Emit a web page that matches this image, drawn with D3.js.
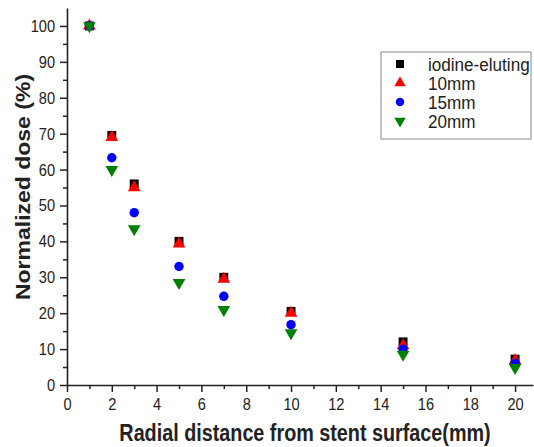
<!DOCTYPE html>
<html>
<head>
<meta charset="utf-8">
<script src="https://cdn.jsdelivr.net/npm/d3@7"></script>
<style>
  body { margin: 0; background: #fff; }
  svg text { font-family: "Liberation Sans", Arial, sans-serif; }
</style>
</head>
<body>
<svg id="chart" width="534" height="447"></svg>
<script>
// distances (mm)
const distances = [1, 2, 3, 5, 7, 10, 15, 20];
// normalized dose (%) per series
const iodineEluting = [100, 69.5, 56, 40, 30, 20.5, 12, 7.2];
const mm10 = [100, 69, 55, 39.3, 29.5, 20, 11, 6.8];
const mm15 = [100, 63.3, 48, 33, 24.7, 16.8, 10, 6];
const mm20 = [100, 60, 43.5, 28.5, 21, 14.5, 8.5, 4.8];
const seriesNames = ["iodine-eluting", "10mm", "15mm", "20mm"];
const xTicks = [0, 2, 4, 6, 8, 10, 12, 14, 16, 18, 20];
const yTicks = [0, 10, 20, 30, 40, 50, 60, 70, 80, 90, 100];

const series = [
  { name: seriesNames[0], values: iodineEluting, shape: d3.symbolSquare, color: "#000000", size: 80, rot: 0 },
  { name: seriesNames[1], values: mm10, shape: d3.symbolTriangle, color: "#ff0000", size: 70, rot: 0 },
  { name: seriesNames[2], values: mm15, shape: d3.symbolCircle, color: "#0000ff", size: 70, rot: 0 },
  { name: seriesNames[3], values: mm20, shape: d3.symbolTriangle, color: "#008000", size: 70, rot: 180 }
];

const svg = d3.select("#chart");
const squeeze = 0.86; // the original figure's text is a bit narrow

const x = d3.scaleLinear().domain([0, 20.8]).range([67, 533]);
const y = d3.scaleLinear().domain([0, 105]).range([385, 8]);

// minor ticks
svg.append("g")
  .attr("transform", `translate(0,${y(0)})`)
  .call(d3.axisBottom(x).tickValues(d3.range(1, 21, 2)).tickSize(4).tickFormat(""))
  .call(g => g.select(".domain").remove())
  .selectAll("line").attr("stroke-width", 1.5).attr("stroke", "#222");

svg.append("g")
  .attr("transform", `translate(${x(0)},0)`)
  .call(d3.axisLeft(y).tickValues(d3.range(5, 105, 10)).tickSize(4).tickFormat(""))
  .call(g => g.select(".domain").remove())
  .selectAll("line").attr("stroke-width", 1.5).attr("stroke", "#222");

// main axes
const xAxis = svg.append("g")
  .attr("transform", `translate(0,${y(0)})`)
  .call(d3.axisBottom(x).tickValues(xTicks).tickSize(7).tickSizeOuter(0).tickPadding(6));
const yAxis = svg.append("g")
  .attr("transform", `translate(${x(0)},0)`)
  .call(d3.axisLeft(y).tickValues(yTicks).tickSize(7).tickSizeOuter(0).tickPadding(4));

[xAxis, yAxis].forEach(g => {
  g.select(".domain").attr("stroke-width", 1.6).attr("stroke", "#222");
  g.selectAll(".tick line").attr("stroke-width", 1.5).attr("stroke", "#222");
  g.selectAll(".tick text").attr("font-size", 17).attr("fill", "#222")
    .attr("font-family", "Liberation Sans, Arial, sans-serif");
});
xAxis.selectAll(".tick text").attr("transform", `scale(${squeeze},1)`);
yAxis.selectAll(".tick text")
  .attr("x", -12 / squeeze)
  .attr("transform", `scale(${squeeze},1)`);

// axis titles
svg.append("g")
  .attr("transform", `translate(305,441) scale(${squeeze},1)`)
  .append("text")
  .attr("text-anchor", "middle")
  .attr("font-size", 23).attr("font-weight", "bold").attr("fill", "#222")
  .text("Radial distance from stent surface(mm)");

svg.append("g")
  .attr("transform", `translate(30,187) scale(${squeeze},1) rotate(-90)`)
  .append("text")
  .attr("text-anchor", "middle")
  .attr("font-size", 23).attr("font-weight", "bold").attr("fill", "#222")
  .text("Normalized dose (%)");

// points
series.forEach(s => {
  const sym = d3.symbol().type(s.shape).size(s.size);
  svg.append("g").selectAll("path")
    .data(s.values)
    .join("path")
    .attr("d", sym)
    .attr("fill", s.color)
    .attr("transform", (d, i) => `translate(${x(distances[i])},${y(d)}) rotate(${s.rot})`);
});

// legend
const legend = svg.append("g").attr("transform", "translate(381,52)");
legend.append("rect")
  .attr("width", 150).attr("height", 87)
  .attr("fill", "#fff").attr("stroke", "#888").attr("stroke-width", 1);
series.forEach((s, i) => {
  const ly = 12 + i * 19;
  legend.append("path")
    .attr("d", d3.symbol().type(s.shape).size(s.size * 0.8))
    .attr("fill", s.color)
    .attr("transform", `translate(19,${ly}) rotate(${s.rot})`);
  legend.append("g")
    .attr("transform", `translate(47,${ly + 7}) scale(${squeeze + 0.04},1)`)
    .append("text")
    .attr("font-size", 19).attr("fill", "#222")
    .text(s.name);
});
</script>
</body>
</html>
